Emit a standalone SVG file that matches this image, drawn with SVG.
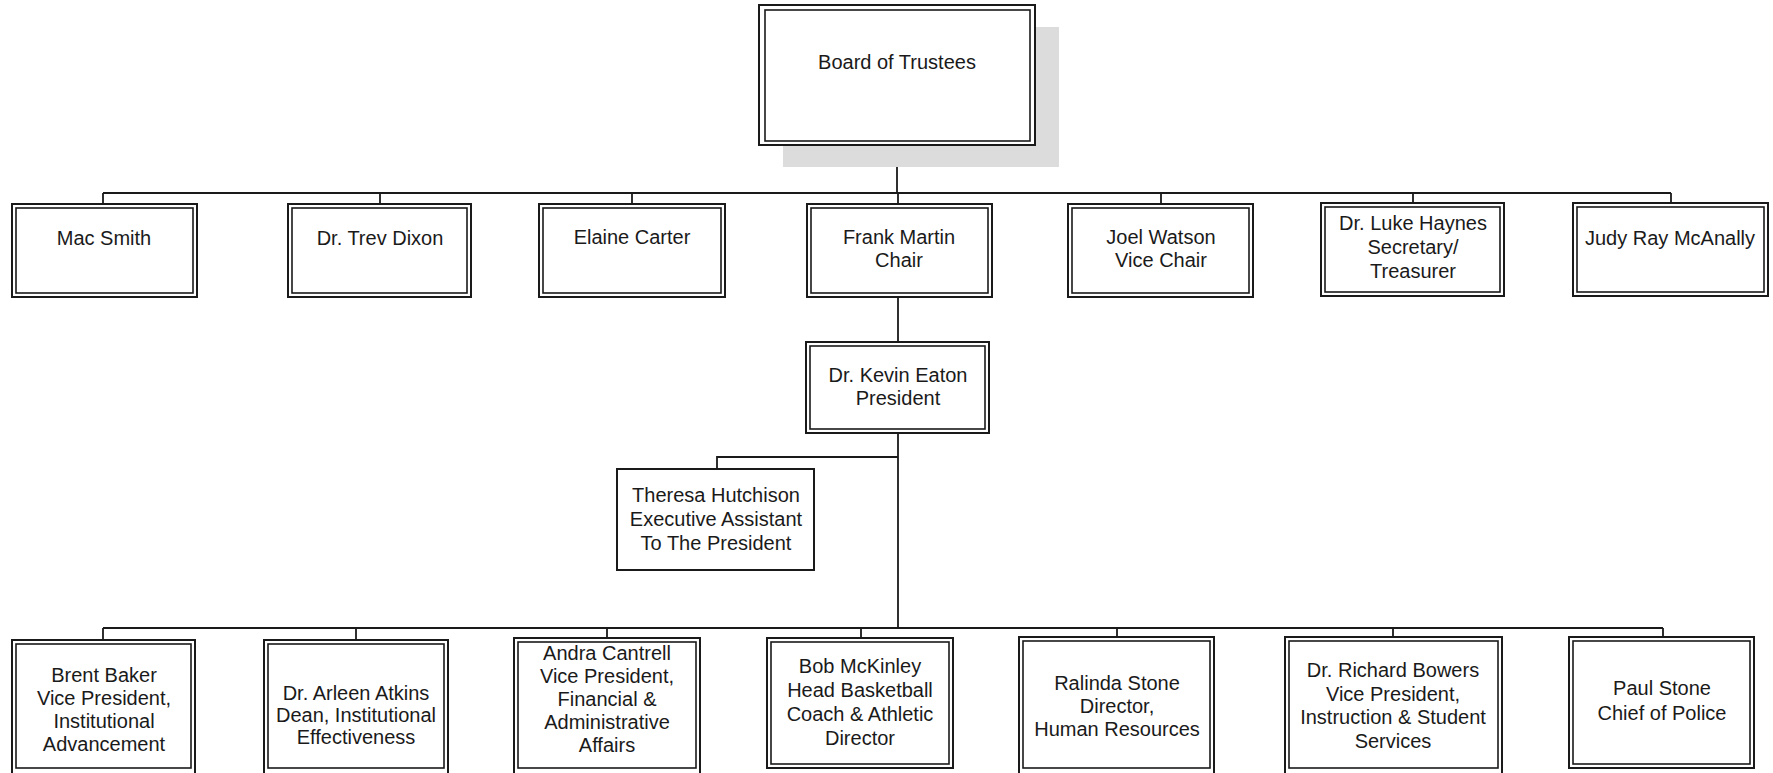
<svg xmlns="http://www.w3.org/2000/svg" width="1773" height="773" viewBox="0 0 1773 773">
<style>
.o{fill:#fff;stroke:#1a1a1a;stroke-width:2}
.i{fill:none;stroke:#1a1a1a;stroke-width:1.6}
.t{font-family:"Liberation Sans",Arial,sans-serif;font-size:20px;fill:#1a1a1a;text-anchor:middle}
.c{fill:none;stroke:#1a1a1a;stroke-width:1.8}
</style>
<rect width="1773" height="773" fill="#fff"/>
<g id="connectors">
<path class="c" d="M897 145V193M103 193H1671M103 193V204M380 193V204M632 193V204M898 193V204M1161 193V204M1413 193V204M1671 193V204"/>
<path class="c" d="M898 297V342M898 433V628M898 457H717V469"/>
<path class="c" d="M103 628H1663M103 628V640M356 628V640M607 628V638M861 628V638M1117 628V637M1393 628V637M1663 628V637"/>
</g>
<g id="board">
<rect x="783" y="27" width="276" height="140" fill="#dcdcdc"/>
<rect class="o" x="759" y="5" width="276" height="140"/>
<rect class="i" x="765" y="10" width="265" height="131"/>
<text class="t" x="897" y="69">Board of Trustees</text>
</g>
<g id="mac-smith">
<rect class="o" x="12" y="204" width="185" height="93"/>
<rect class="i" x="16" y="208" width="177" height="85"/>
<text class="t" x="104" y="245">Mac Smith</text>
</g>
<g id="trev-dixon">
<rect class="o" x="288" y="204" width="183" height="93"/>
<rect class="i" x="292" y="208" width="175" height="85"/>
<text class="t" x="380" y="245">Dr. Trev Dixon</text>
</g>
<g id="elaine-carter">
<rect class="o" x="539" y="204" width="186" height="93"/>
<rect class="i" x="543" y="208" width="178" height="85"/>
<text class="t" x="632" y="244">Elaine Carter</text>
</g>
<g id="frank-martin">
<rect class="o" x="807" y="204" width="185" height="93"/>
<rect class="i" x="811" y="208" width="177" height="85"/>
<text class="t" x="899" y="244">Frank Martin</text>
<text class="t" x="899" y="267">Chair</text>
</g>
<g id="joel-watson">
<rect class="o" x="1068" y="204" width="185" height="93"/>
<rect class="i" x="1072" y="208" width="177" height="85"/>
<text class="t" x="1161" y="244">Joel Watson</text>
<text class="t" x="1161" y="267">Vice Chair</text>
</g>
<g id="luke-haynes">
<rect class="o" x="1321" y="203" width="183" height="93"/>
<rect class="i" x="1325" y="207" width="175" height="85"/>
<text class="t" x="1413" y="230">Dr. Luke Haynes</text>
<text class="t" x="1413" y="254">Secretary/</text>
<text class="t" x="1413" y="278">Treasurer</text>
</g>
<g id="judy-ray-mcanally">
<rect class="o" x="1573" y="203" width="195" height="93"/>
<rect class="i" x="1577" y="207" width="187" height="85"/>
<text class="t" x="1670" y="245">Judy Ray McAnally</text>
</g>
<g id="kevin-eaton">
<rect class="o" x="806" y="342" width="183" height="91"/>
<rect class="i" x="810" y="346" width="175" height="83"/>
<text class="t" x="898" y="382">Dr. Kevin Eaton</text>
<text class="t" x="898" y="405">President</text>
</g>
<g id="theresa-hutchison">
<rect class="o" x="617" y="469" width="197" height="101"/>
<text class="t" x="716" y="502">Theresa Hutchison</text>
<text class="t" x="716" y="526">Executive Assistant</text>
<text class="t" x="716" y="550">To The President</text>
</g>
<g id="brent-baker">
<rect class="o" x="12" y="640" width="183" height="135"/>
<rect class="i" x="16" y="644" width="175" height="124"/>
<text class="t" x="104" y="682">Brent Baker</text>
<text class="t" x="104" y="705">Vice President,</text>
<text class="t" x="104" y="728">Institutional</text>
<text class="t" x="104" y="751">Advancement</text>
</g>
<g id="arleen-atkins">
<rect class="o" x="264" y="640" width="184" height="135"/>
<rect class="i" x="268" y="644" width="176" height="124"/>
<text class="t" x="356" y="700">Dr. Arleen Atkins</text>
<text class="t" x="356" y="722">Dean, Institutional</text>
<text class="t" x="356" y="744">Effectiveness</text>
</g>
<g id="andra-cantrell">
<rect class="o" x="514" y="638" width="186" height="137"/>
<rect class="i" x="518" y="642" width="178" height="126"/>
<text class="t" x="607" y="660">Andra Cantrell</text>
<text class="t" x="607" y="683">Vice President,</text>
<text class="t" x="607" y="706">Financial &amp;</text>
<text class="t" x="607" y="729">Administrative</text>
<text class="t" x="607" y="752">Affairs</text>
</g>
<g id="bob-mckinley">
<rect class="o" x="767" y="638" width="186" height="130"/>
<rect class="i" x="771" y="642" width="178" height="122"/>
<text class="t" x="860" y="673">Bob McKinley</text>
<text class="t" x="860" y="697">Head Basketball</text>
<text class="t" x="860" y="721">Coach &amp; Athletic</text>
<text class="t" x="860" y="745">Director</text>
</g>
<g id="ralinda-stone">
<rect class="o" x="1019" y="637" width="195" height="138"/>
<rect class="i" x="1023" y="641" width="187" height="127"/>
<text class="t" x="1117" y="690">Ralinda Stone</text>
<text class="t" x="1117" y="713">Director,</text>
<text class="t" x="1117" y="736">Human Resources</text>
</g>
<g id="richard-bowers">
<rect class="o" x="1285" y="637" width="217" height="138"/>
<rect class="i" x="1289" y="641" width="209" height="127"/>
<text class="t" x="1393" y="677">Dr. Richard Bowers</text>
<text class="t" x="1393" y="701">Vice President,</text>
<text class="t" x="1393" y="724">Instruction &amp; Student</text>
<text class="t" x="1393" y="748">Services</text>
</g>
<g id="paul-stone">
<rect class="o" x="1569" y="637" width="185" height="131"/>
<rect class="i" x="1573" y="641" width="177" height="123"/>
<text class="t" x="1662" y="695">Paul Stone</text>
<text class="t" x="1662" y="720">Chief of Police</text>
</g>
</svg>
